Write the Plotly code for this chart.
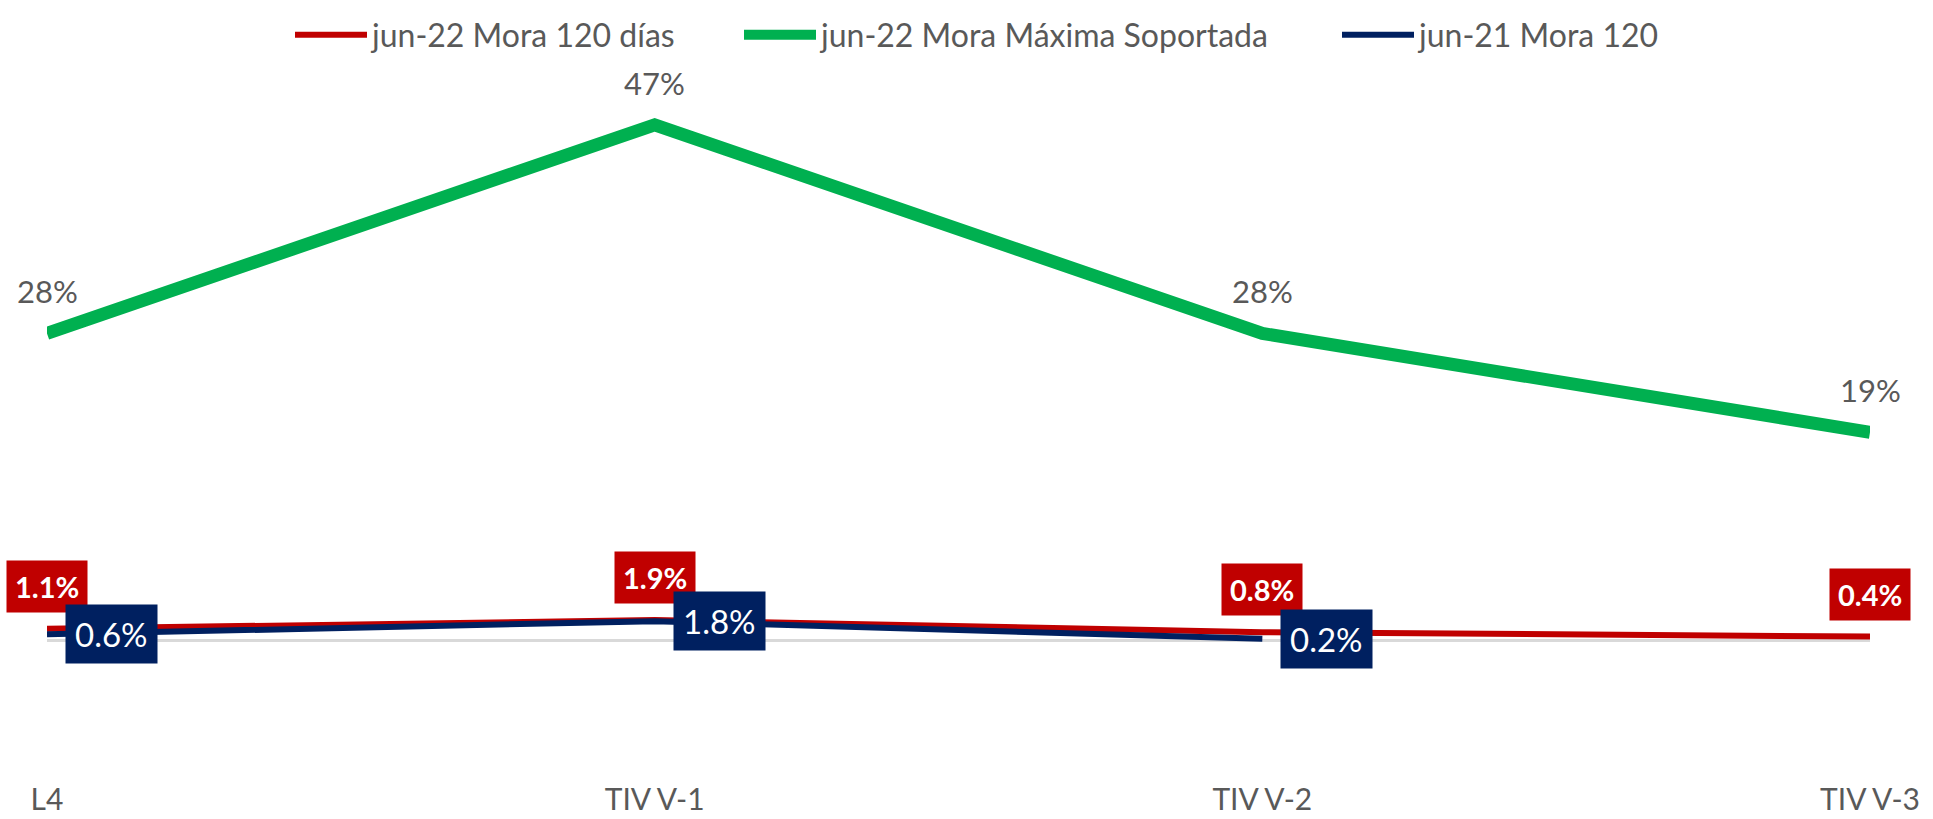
import plotly.graph_objects as go

categories = ["L4", "TIV V-1", "TIV V-2", "TIV V-3"]
mora_120_jun22 = [0.011, 0.019, 0.008, 0.004]
mora_max_jun22 = [0.28, 0.47, 0.28, 0.19]
mora_120_jun21 = [0.006, 0.018, 0.002, None]

RED = "#C00000"
GREEN = "#00B050"
NAVY = "#002060"
GREY_TXT = "#595959"
FONT = "Lato"

fig = go.Figure()

fig.add_trace(go.Scatter(
    x=categories, y=mora_120_jun22, mode="lines",
    name="jun-22 Mora 120 días", legend="legend", showlegend=True,
    line=dict(color=RED, width=6), cliponaxis=False,
))
fig.add_trace(go.Scatter(
    x=categories, y=mora_max_jun22, mode="lines",
    name="jun-22 Mora Máxima Soportada", legend="legend2", showlegend=True,
    line=dict(color=GREEN, width=13), cliponaxis=False,
))
fig.add_trace(go.Scatter(
    x=categories, y=mora_120_jun21, mode="lines",
    name="jun-21 Mora 120", legend="legend3", showlegend=True,
    line=dict(color=NAVY, width=6), cliponaxis=False,
))

annotations = []
# etiquetas verdes sobre la línea
for cat, v in zip(categories, mora_max_jun22):
    annotations.append(dict(
        x=cat, y=v, text=f"{v:.0%}", showarrow=False,
        yshift=42, font=dict(family=FONT, size=31, color=GREY_TXT),
    ))
# etiquetas rojas en caja
for cat, v in zip(categories, mora_120_jun22):
    annotations.append(dict(
        x=cat, y=v, text=f"<b>{v:.1%}</b>", showarrow=False,
        yanchor="bottom", yshift=16, bgcolor=RED, borderpad=8,
        font=dict(family=FONT, size=29, color="white"),
    ))
# etiquetas azules en caja, a la derecha
for cat, v in zip(categories, mora_120_jun21):
    if v is None:
        continue
    annotations.append(dict(
        x=cat, y=v, text=f"{v:.1%}", showarrow=False,
        xanchor="left", xshift=18, bgcolor=NAVY, borderpad=9,
        font=dict(family=FONT, size=33, color="white"),
    ))

PLOT_W = 1933 - 47 - 63


def legend_at(px):
    return dict(
        visible=True,
        orientation="h", x=(px - 47) / PLOT_W, xanchor="left",
        y=1.035, yanchor="middle", bgcolor="rgba(0,0,0,0)",
        font=dict(family=FONT, size=32, color=GREY_TXT),
        itemwidth=72,
    )


fig.update_layout(
    width=1933, height=819,
    paper_bgcolor="white", plot_bgcolor="white",
    margin=dict(l=47, r=63, t=60, b=40, autoexpand=False),
    font=dict(family=FONT, color=GREY_TXT),
    showlegend=True,
    annotations=annotations,
    legend=legend_at(290),
    legend2=legend_at(739),
    legend3=legend_at(1337),
    xaxis=dict(
        type="category", range=[0, 3], showgrid=False, showline=False,
        ticks="", tickfont=dict(family=FONT, size=30, color=GREY_TXT),
    ),
    yaxis=dict(
        range=[-0.1257, 0.529], showgrid=False, showticklabels=False,
        zeroline=True, zerolinecolor="#D9D9D9", zerolinewidth=3,
    ),
)

fig.write_html(
    "out.html",
    config={"displayModeBar": False},
    post_script="document.body.style.margin='0';",
)
